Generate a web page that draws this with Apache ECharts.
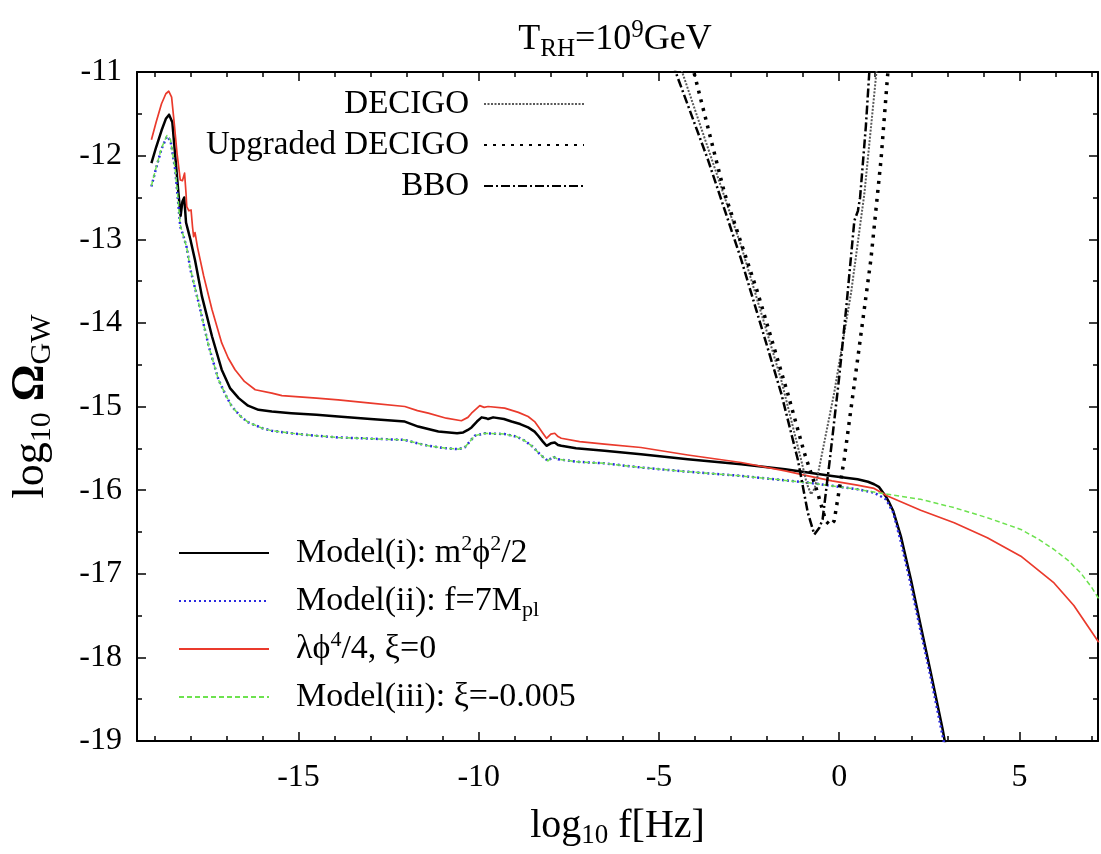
<!DOCTYPE html>
<html><head><meta charset="utf-8">
<script src="https://cdn.jsdelivr.net/npm/echarts@6/dist/echarts.min.js"></script>
<style>html,body{margin:0;padding:0;background:#fff}#c{width:1101px;height:854px}</style>
</head><body><div id="c"></div>
<script>
const FONT = '"Liberation Serif","Times New Roman",serif';

// axis ranges and tick labels
const xRange = [-19.48, 7.18];
const yRange = [-19, -11];
const xTickLabels = [-15, -10, -5, 0, 5];
const xMinorTicks = [-19,-18,-17,-16,-15,-14,-13,-12,-11,-10,-9,-8,-7,-6,-5,-4,-3,-2,-1,0,1,2,3,4,5,6,7];

// Model(i): m^2 phi^2/2  (black solid)
const modelI_x = [-19.08,-18.95,-18.8,-18.68,-18.59,-18.5,-18.42,-18.33,-18.27,-18.22,-18.17,-18.12,-18.06,-18.0,-17.95,-17.87,-17.68,-17.4,-17.13,-16.9,-16.66,-16.4,-16.11,-15.74,-15.2,-14.5,-13.9,-13.0,-12.05,-11.68,-11.12,-10.6,-10.43,-10.3,-10.2,-10.05,-9.92,-9.8,-9.74,-9.6,-9.3,-9.09,-8.85,-8.63,-8.45,-8.35,-8.22,-8.12,-8.0,-7.89,-7.8,-7.71,-7.3,-6.51,-5.5,-4.2,-2.72,-1.5,-0.87,-0.2,0.51,0.8,0.97,1.1,1.2,1.3,1.39,1.5,1.71,1.99,2.26,2.54,2.87,2.95];
const modelI_y = [-12.09,-11.9,-11.7,-11.56,-11.51,-11.6,-12.0,-12.45,-12.72,-12.55,-12.5,-12.8,-12.9,-13.0,-12.98,-13.25,-13.68,-14.16,-14.56,-14.78,-14.9,-14.99,-15.04,-15.06,-15.08,-15.1,-15.12,-15.15,-15.18,-15.24,-15.3,-15.32,-15.31,-15.28,-15.25,-15.18,-15.13,-15.14,-15.15,-15.13,-15.15,-15.18,-15.21,-15.25,-15.3,-15.35,-15.42,-15.47,-15.44,-15.43,-15.46,-15.47,-15.5,-15.53,-15.57,-15.63,-15.69,-15.75,-15.79,-15.83,-15.87,-15.9,-15.93,-15.96,-16.02,-16.08,-16.15,-16.25,-16.55,-17.07,-17.62,-18.18,-18.86,-19.05];

// Model(ii): f=7Mpl (blue dotted)
const modelII_x = [-19.08,-18.95,-18.8,-18.65,-18.55,-18.42,-18.35,-18.28,-18.2,-18.1,-18.0,-17.77,-17.49,-17.22,-17.0,-16.85,-16.6,-16.39,-16.0,-15.74,-15.19,-14.5,-13.9,-12.05,-11.7,-11.4,-10.9,-10.57,-10.39,-10.25,-10.11,-9.83,-9.28,-8.95,-8.72,-8.5,-8.35,-8.2,-8.08,-7.94,-7.8,-7.3,-6.51,-5.49,-4.2,-2.72,-0.87,0.51,0.97,1.3,1.5,1.7,1.97,2.24,2.52,2.85,2.92];
const modelII_y = [-12.37,-12.15,-11.92,-11.77,-11.82,-12.17,-12.5,-12.85,-12.95,-13.1,-13.36,-13.76,-14.28,-14.68,-14.88,-15.0,-15.12,-15.19,-15.26,-15.29,-15.32,-15.35,-15.37,-15.4,-15.44,-15.47,-15.5,-15.51,-15.49,-15.42,-15.35,-15.32,-15.33,-15.36,-15.41,-15.48,-15.55,-15.61,-15.65,-15.6,-15.63,-15.66,-15.68,-15.73,-15.78,-15.83,-15.91,-15.99,-16.03,-16.11,-16.27,-16.6,-17.1,-17.65,-18.2,-18.9,-19.05];

// lambda phi^4/4, xi=0 (red solid)
const quartic_x = [-19.08,-18.95,-18.8,-18.68,-18.6,-18.52,-18.45,-18.37,-18.28,-18.22,-18.16,-18.12,-18.1,-18.04,-17.98,-17.94,-17.91,-17.87,-17.8,-17.63,-17.4,-17.13,-16.95,-16.76,-16.5,-16.2,-15.74,-15.46,-14.5,-13.9,-13.0,-12.05,-11.7,-11.4,-10.9,-10.48,-10.3,-10.2,-9.97,-9.85,-9.74,-9.28,-8.9,-8.63,-8.45,-8.35,-8.22,-8.12,-8.0,-7.89,-7.8,-7.71,-7.2,-6.51,-5.5,-4.2,-2.72,-1.5,-0.87,-0.2,0.5,0.97,1.34,2.26,3.19,4.11,5.04,5.96,6.51,7.2];
const quartic_y = [-11.81,-11.6,-11.38,-11.26,-11.23,-11.3,-11.6,-11.97,-12.29,-12.3,-12.21,-12.45,-12.61,-12.66,-12.65,-12.85,-12.97,-12.92,-13.1,-13.44,-13.84,-14.24,-14.42,-14.56,-14.7,-14.8,-14.84,-14.87,-14.9,-14.92,-14.96,-15.0,-15.05,-15.08,-15.14,-15.17,-15.13,-15.08,-14.99,-15.01,-15.0,-15.02,-15.07,-15.12,-15.18,-15.24,-15.32,-15.38,-15.33,-15.32,-15.36,-15.38,-15.42,-15.45,-15.49,-15.58,-15.67,-15.77,-15.83,-15.89,-15.94,-15.98,-16.07,-16.24,-16.39,-16.57,-16.79,-17.11,-17.38,-17.82];

// Model(iii): xi=-0.005 (green dashed)
const modelIII_x = [-19.08,-18.95,-18.8,-18.65,-18.55,-18.42,-18.35,-18.28,-18.2,-18.1,-18.0,-17.77,-17.49,-17.22,-17.0,-16.85,-16.6,-16.39,-16.0,-15.74,-15.19,-14.5,-13.9,-12.05,-11.7,-11.4,-10.9,-10.57,-10.39,-10.25,-10.11,-9.83,-9.28,-8.95,-8.72,-8.5,-8.35,-8.2,-8.08,-7.94,-7.8,-7.3,-6.51,-5.49,-4.2,-2.72,-0.87,0.5,1.34,2.26,3.19,4.11,5.04,5.5,5.96,6.35,6.7,7.0,7.2];
const modelIII_y = [-12.36,-12.14,-11.91,-11.76,-11.81,-12.16,-12.48,-12.83,-12.95,-13.1,-13.35,-13.76,-14.28,-14.68,-14.88,-15.0,-15.12,-15.19,-15.26,-15.29,-15.32,-15.35,-15.37,-15.4,-15.44,-15.47,-15.5,-15.51,-15.49,-15.42,-15.35,-15.32,-15.33,-15.36,-15.41,-15.48,-15.55,-15.61,-15.65,-15.6,-15.63,-15.66,-15.68,-15.73,-15.78,-15.83,-15.91,-15.99,-16.05,-16.11,-16.21,-16.33,-16.47,-16.58,-16.71,-16.84,-16.99,-17.16,-17.3];

// detector sensitivity curves
const decigo_x = [-4.59,-4.34,-2.72,-1.61,-1.06,-0.9,-0.78,-0.68,-0.6,-0.14,0.33,0.7,1.02,1.1];
const decigo_y = [-10.7,-11.02,-13.08,-14.68,-15.63,-15.92,-16.05,-15.98,-15.83,-14.84,-13.64,-12.45,-11.06,-10.7];
const updecigo_x = [-4.2,-4.02,-3.18,-2.26,-1.43,-0.97,-0.6,-0.37,-0.25,-0.14,0.14,0.51,0.88,1.16,1.34,1.41];
const updecigo_y = [-10.7,-11.02,-12.45,-13.64,-14.84,-15.55,-16.03,-16.37,-16.42,-16.37,-15.63,-14.44,-13.24,-12.05,-11.06,-10.7];
const bbo_x = [-4.78,-4.52,-3.64,-2.72,-1.61,-1.15,-0.87,-0.69,-0.55,-0.46,-0.25,0.0,0.2,0.42,0.52,0.58,0.74,0.83,0.88];
const bbo_y = [-10.7,-11.02,-12.05,-13.24,-14.84,-15.63,-16.27,-16.53,-16.45,-16.35,-15.6,-14.65,-13.8,-12.78,-12.66,-12.5,-11.65,-11.04,-10.7];

const pairs = (xs, ys) => xs.map((x, i) => [x, ys[i]]);

const N_I = 'Model(i)', N_II = 'Model(ii)', N_Q = 'quartic', N_III = 'Model(iii)';
const legendText = {
  'Model(i)': 'Model(i): m{p|2}\u03d5{p|2}/2',
  'Model(ii)': 'Model(ii): f=7M{s|pl}',
  'quartic': '\u03bb\u03d5{p|4}/4, \u03be=0',
  'Model(iii)': 'Model(iii): \u03be=-0.005'
};

const black = '#000';
const chart = echarts.init(document.getElementById('c'), null, {renderer: 'canvas'});

function xAx(position, ticks, len, withLabels, withLine) {
  return {
    type: 'value', position: position, min: xRange[0], max: xRange[1],
    axisLine: {show: withLine, onZero: false, lineStyle: {color: black, width: 2}},
    axisTick: {show: true, inside: true, length: len, customValues: ticks, lineStyle: {color: black, width: 1.5}},
    axisLabel: {show: withLabels, customValues: xTickLabels, fontFamily: FONT, fontSize: 32, color: black, margin: 21},
    splitLine: {show: false}
  };
}

const yBase = (position, labels) => ({
  type: 'value', position: position, min: yRange[0], max: yRange[1], interval: 1,
  axisLine: {show: true, onZero: false, lineStyle: {color: black, width: 2}},
  axisTick: {show: true, inside: true, length: 9, lineStyle: {color: black, width: 1.5}},
  minorTick: {show: true, splitNumber: 2, length: 5, lineStyle: {color: black, width: 1.5}},
  axisLabel: {show: labels, fontFamily: FONT, fontSize: 32, color: black, margin: 15},
  splitLine: {show: false}
});

const xAxes = [xAx('bottom', xTickLabels, 9, true, true), xAx('bottom', xMinorTicks, 5, false, false),
               xAx('top', xTickLabels, 9, false, true), xAx('top', xMinorTicks, 5, false, false)];
xAxes[0].name = '{a|log}{s|10}{a| f[Hz]}';
xAxes[0].nameLocation = 'middle';
xAxes[0].nameGap = 62;
xAxes[0].nameTextStyle = {fontFamily: FONT, color: black, rich: {
  a: {fontFamily: FONT, fontSize: 40, lineHeight: 46, color: black},
  s: {fontFamily: FONT, fontSize: 27, lineHeight: 24, verticalAlign: 'bottom', color: black}
}};

const yAxes = [yBase('left', true), yBase('right', false)];
yAxes[0].name = '{a|log}{s|10}{a| }{o|\u03a9}{s|GW}';
yAxes[0].nameLocation = 'middle';
yAxes[0].nameRotate = 90;
yAxes[0].nameGap = 80;
yAxes[0].nameTextStyle = {fontFamily: FONT, color: black, rich: {
  a: {fontFamily: FONT, fontSize: 44, lineHeight: 52, color: black},
  o: {fontFamily: FONT, fontSize: 46, lineHeight: 52, fontWeight: 'bold', color: black},
  s: {fontFamily: FONT, fontSize: 30, lineHeight: 26, verticalAlign: 'bottom', color: black}
}};

function lineSeries(name, xs, ys, color, width, type, z) {
  return {
    name: name, type: 'line', xAxisIndex: 0, yAxisIndex: 0, data: pairs(xs, ys),
    symbol: 'none', showSymbol: false, smooth: false, clip: true, z: z, silent: true,
    lineStyle: {color: color, width: width, type: type, cap: 'butt', join: 'round'},
    itemStyle: {color: color}, emphasis: {disabled: true}, animation: false
  };
}

const option = {
  backgroundColor: '#fff',
  animation: false,
  title: {
    text: '{a|T}{s|RH}{a|=10}{p|9}{a|GeV}',
    left: 615, top: 18, textAlign: 'center', padding: 0,
    textStyle: {fontFamily: FONT, fontWeight: 'normal', color: black, rich: {
      a: {fontFamily: FONT, fontWeight: 'normal', fontSize: 36, lineHeight: 44, color: black},
      s: {fontFamily: FONT, fontWeight: 'normal', fontSize: 25, lineHeight: 22, verticalAlign: 'bottom', color: black},
      p: {fontFamily: FONT, fontWeight: 'normal', fontSize: 25, lineHeight: 22, verticalAlign: 'top', color: black}
    }}
  },
  grid: {left: 135, right: 3, top: 72, bottom: 112, containLabel: false},
  xAxis: xAxes,
  yAxis: yAxes,
  legend: [
    {
      data: ['DECIGO', 'Upgraded DECIGO', 'BBO'],
      orient: 'vertical', align: 'right', right: 516, top: 85, padding: 0,
      itemWidth: 100, itemHeight: 14, itemGap: 3, selectedMode: false,
      itemStyle: {opacity: 0},
      textStyle: {fontFamily: FONT, fontSize: 33, lineHeight: 38, color: black, padding: [0, 10, 0, 0]}
    },
    {
      data: [N_I, N_II, N_Q, N_III],
      orient: 'vertical', align: 'left', left: 178, top: 533, padding: 0,
      itemWidth: 90, itemHeight: 14, itemGap: 8, selectedMode: false,
      itemStyle: {opacity: 0},
      formatter: (n) => legendText[n],
      textStyle: {fontFamily: FONT, fontSize: 34, lineHeight: 40, color: black, padding: [0, 0, 0, 22],
        rich: {
          p: {fontFamily: FONT, fontSize: 22, lineHeight: 18, verticalAlign: 'top', color: black},
          s: {fontFamily: FONT, fontSize: 22, lineHeight: 22, verticalAlign: 'bottom', color: black}
        }}
    }
  ],
  series: [
    lineSeries(N_I, modelI_x, modelI_y, '#000000', 2.5, 'solid', 2),
    lineSeries(N_II, modelII_x, modelII_y, '#2a2ae0', 2.5, [2, 3], 3),
    lineSeries(N_Q, quartic_x, quartic_y, '#ea3a2c', 1.7, 'solid', 4),
    lineSeries(N_III, modelIII_x, modelIII_y, '#6de24f', 1.5, [5, 3], 5),
    lineSeries('DECIGO', decigo_x, decigo_y, '#5a5a5a', 2, [2, 1.5], 6),
    lineSeries('Upgraded DECIGO', updecigo_x, updecigo_y, '#000000', 3.5, [3, 6], 7),
    lineSeries('BBO', bbo_x, bbo_y, '#000000', 2.5, [9, 3, 2, 3], 8)
  ]
};
chart.setOption(option);
</script>
</body></html>
